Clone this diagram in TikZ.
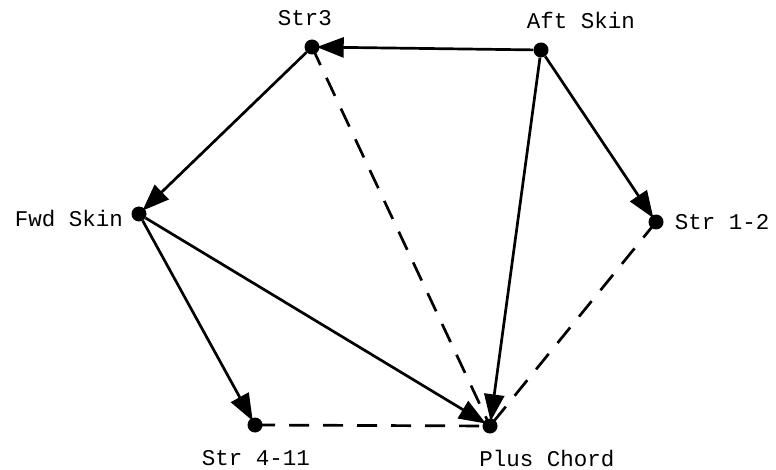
\documentclass[tikz,border=0pt]{standalone}
\usepackage{fontspec}
\setmonofont{Liberation Mono}
\usetikzlibrary{arrows.meta}
\begin{document}
\begin{tikzpicture}[x=1pt,y=-1pt,
  dot/.style={circle,fill=black,inner sep=0pt,minimum size=15pt},
  lbl/.style={font=\ttfamily\fontsize{22.5}{25}\selectfont,inner sep=0pt},
  edge/.style={line width=2.7pt,-{Triangle[length=27pt,width=20pt]},shorten >=-3pt},
  dedge/.style={line width=2.7pt,dash pattern=on 20pt off 14pt}]
\useasboundingbox (0,0) rectangle (776,470);
\node[dot] (s3) at (312,47) {};
\node[dot] (aft) at (541,50) {};
\node[dot] (fwd) at (139,214) {};
\node[dot] (s12) at (656,222) {};
\node[dot] (s411) at (255,425) {};
\node[dot] (pc) at (490,426) {};
\node[lbl] (ls3) at (305,18) {Str3};
\node[lbl] (laft) at (581,20) {Aft Skin};
\node[lbl] (lfwd) at (69,218) {Fwd Skin};
\node[lbl] (ls12) at (722,222) {Str 1-2};
\node[lbl] (ls411) at (256,458) {Str 4-11};
\node[lbl] (lpc) at (547,458) {Plus Chord};
\draw[dedge] (s3.center) -- (pc.center);
\draw[dedge] (s12.center) -- (pc.center);
\draw[dedge] (s411.center) -- (pc.center);
\draw[edge] (aft) -- (s3);
\draw[edge] (s3) -- (fwd);
\draw[edge] (aft) -- (s12);
\draw[edge] (aft) -- (pc);
\draw[edge] (fwd) -- (s411);
\draw[edge] (fwd) -- (pc);
\end{tikzpicture}
\end{document}
